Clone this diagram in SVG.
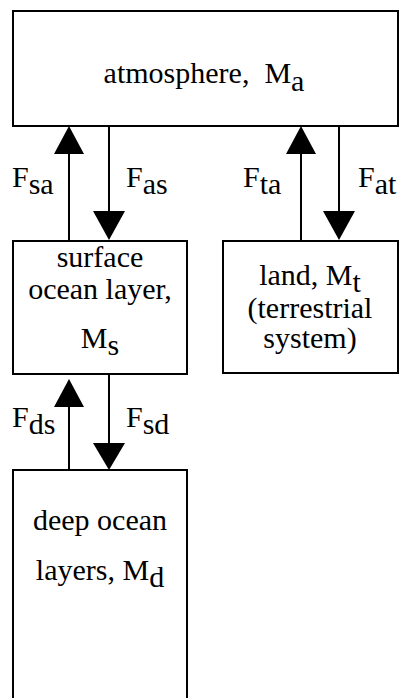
<svg xmlns="http://www.w3.org/2000/svg" width="401" height="698" viewBox="0 0 401 698">
<style>
rect.box{fill:#fff;stroke:#000;stroke-width:2}
line.c{stroke:#000;stroke-width:2}
polygon.h{fill:#000}
text{font-family:"Liberation Serif","Times New Roman",Times,serif;font-size:30px;fill:#000}
text.m{text-anchor:middle}
</style>
<rect width="401" height="698" fill="#fff"/>
<g id="atmosphere">
<rect class="box" x="13" y="11" width="385" height="115"/>
<text class="m" x="204" y="83" xml:space="preserve">atmosphere,  M<tspan dy="8">a</tspan></text>
</g>
<g id="surface">
<rect class="box" x="13" y="241" width="174" height="133"/>
<text class="m" x="100" y="267">surface</text>
<text class="m" x="100" y="299">ocean layer,</text>
<text class="m" x="100" y="348">M<tspan dy="7">s</tspan></text>
</g>
<g id="land">
<rect class="box" x="223" y="241" width="175" height="132"/>
<text class="m" x="310" y="285">land, M<tspan dy="7">t</tspan></text>
<text class="m" x="310" y="318">(terrestrial</text>
<text class="m" x="310" y="348">system)</text>
</g>
<g id="deep">
<rect class="box" x="13" y="470" width="174" height="240"/>
<text class="m" x="100" y="530">deep ocean</text>
<text class="m" x="100" y="580">layers, M<tspan dy="7">d</tspan></text>
</g>
<g id="connectors">
<line class="c" x1="69" y1="241" x2="69" y2="150"/>
<polygon class="h" points="69,126 54,154 84,154"/>
<line class="c" x1="109" y1="126" x2="109" y2="215"/>
<polygon class="h" points="109,240 93,211 125,211"/>
<line class="c" x1="301" y1="241" x2="301" y2="150"/>
<polygon class="h" points="301,126 286,154 316,154"/>
<line class="c" x1="339" y1="126" x2="339" y2="215"/>
<polygon class="h" points="339,240 323,211 355,211"/>
<line class="c" x1="69" y1="470" x2="69" y2="403"/>
<polygon class="h" points="69,379 54,407 84,407"/>
<line class="c" x1="109" y1="374" x2="109" y2="447"/>
<polygon class="h" points="109,470 93,443 125,443"/>
<text x="12" y="187">F<tspan dy="7">sa</tspan></text>
<text x="126" y="187">F<tspan dy="7">as</tspan></text>
<text x="243" y="187">F<tspan dy="7">ta</tspan></text>
<text x="358" y="187">F<tspan dy="7">at</tspan></text>
<text x="12" y="427">F<tspan dy="7">ds</tspan></text>
<text x="126" y="427">F<tspan dy="7">sd</tspan></text>
</g>
</svg>
